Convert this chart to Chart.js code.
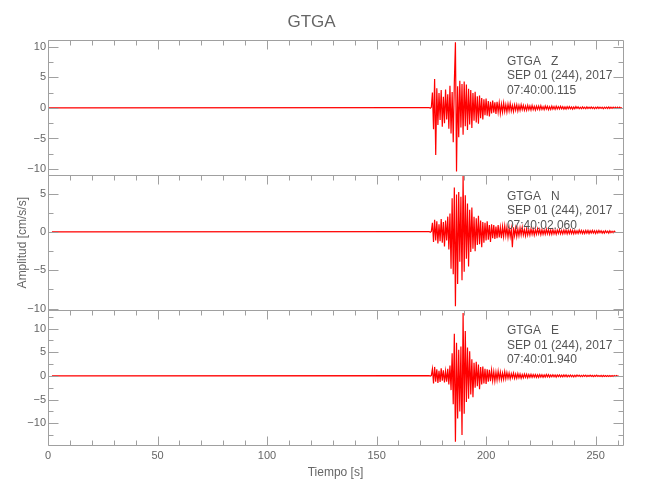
<!DOCTYPE html>
<html>
<head>
<meta charset="utf-8">
<script src="https://cdn.jsdelivr.net/npm/chart.js@4/dist/chart.umd.min.js"></script>
<style>
body { margin: 0; background: #fff; }
</style>
</head>
<body>
<canvas id="seis" width="650" height="500"></canvas>
<script>
// event window samples: first sample time and sample step [s]
var startTime = 174;
var sampleStep = 0.5;
// time where each trace starts (quiet part before the event is flat)
var quietStart = [0, 1.8, 1.8];

var channelNames = ['Z', 'N', 'E'];
var channelTimes = ['07:40:00.115', '07:40:02.060', '07:40:01.940'];
var dateLine = 'SEP 01 (244), 2017';
var station = 'GTGA';

var xTicks = [0, 50, 100, 150, 200, 250];
var zTicks = [-10, -5, 0, 5, 10];
var nTicks = [-10, -5, 0, 5];
var eTicks = [-10, -5, 0, 5, 10];

// amplitudes [cm/s/s]
var zValues = [0.05,-0.06,0.1,
	2.5,-3.5,4.7,-7.7,3.2,-2.8,2.4,-2.0,2.9,-3.1,
	1.8,-2.5,3.0,-1.9,2.2,-3.4,3.6,-4.2,2.6,-5.6,
	4.1,10.7,-10.4,3.5,-4.8,4.4,-3.2,3.9,-4.4,4.3,
	-3.0,3.8,-3.6,3.1,-2.7,2.9,-3.3,2.4,-2.1,2.6,
	-2.4,1.9,-2.6,2.0,-1.7,1.6,-1.9,1.4,-1.2,1.5,
	-1.3,1.1,-1.4,1.0,-0.9,1.2,-0.8,0.9,-1.0,1.0,
	-0.7,0.8,-0.9,0.6,-0.7,0.8,-0.6,0.5,-0.7,0.6,
	-0.5,0.7,-0.5,0.4,-0.6,0.5,-0.4,0.5,-0.5,0.4,
	-0.4,0.5,-0.3,0.4,-0.4,0.3,-0.4,0.4,-0.3,0.3,
	-0.35,0.4,-0.3,0.25,-0.35,0.3,-0.25,0.3,-0.3,0.35,
	-0.25,0.2,-0.3,0.3,-0.2,0.25,-0.3,0.2,-0.25,0.3,
	-0.2,0.2,-0.25,0.25,-0.2,0.2,-0.2,0.25,-0.15,0.2,
	-0.2,0.15,-0.2,0.2,-0.15,0.2,-0.15,0.15,-0.2,0.15,
	-0.15,0.2,-0.1,0.15,-0.15,0.1,-0.15,0.15,-0.1,0.1,
	-0.15,0.15,-0.1,0.1,-0.1,0.15,-0.1,0.1,-0.15,0.1,
	-0.1,0.15,-0.1,0.1,-0.1,0.1,-0.15,0.1,-0.1,0.1,
	-0.1,0.15,-0.1,0.1,-0.1,0.1,-0.1,0.1,-0.1,0.1,
	-0.1,0.1,-0.1,0.05];

var nValues = [0.05,-0.05,0.08,
	1.2,-1.3,1.6,-1.1,1.4,-1.5,1.0,-1.2,1.7,-1.4,
	1.3,-1.9,1.5,-1.1,2.0,-2.3,2.4,-4.8,4.4,-5.5,
	5.8,-9.7,4.9,-6.8,5.2,-3.9,4.6,-6.3,7.3,-5.2,
	4.8,-3.5,3.7,-4.5,2.9,-2.6,3.2,-2.2,2.0,-2.5,
	1.8,-1.7,2.1,-1.6,1.5,-2.0,1.3,-1.4,1.2,-1.1,
	1.4,-1.0,0.9,-1.3,1.0,-0.8,0.9,-0.9,0.7,-0.8,
	0.9,-0.7,0.6,-0.8,0.7,-0.6,0.8,-0.5,0.6,-0.7,
	0.5,-0.6,0.4,-2.0,0.6,-0.5,0.5,-0.6,0.4,-0.5,
	0.5,-0.4,0.6,-0.4,0.3,-0.5,0.4,-0.4,0.3,-0.4,
	0.4,-0.3,0.35,-0.4,0.3,-0.3,0.4,-0.25,0.3,-0.35,
	0.3,-0.3,0.25,-0.3,0.35,-0.25,0.3,-0.3,0.25,-0.3,
	0.3,-0.25,0.2,-0.3,0.25,-0.2,0.3,-0.25,0.2,-0.25,
	0.25,-0.2,0.25,-0.25,0.2,-0.2,0.25,-0.2,0.2,-0.25,
	0.2,-0.2,0.15,-0.2,0.25,-0.15,0.2,-0.2,0.15,-0.2,
	0.2,-0.15,0.2,-0.2,0.15,-0.15,0.2,-0.15,0.15,-0.2,
	0.15,-0.15,0.2,-0.1,0.15,-0.15,0.1,-0.15,0.15,-0.1,
	0.1,-0.15,0.15,-0.1,0.1,-0.1,0.1,0.0];

var eValues = [0.05,-0.05,0.08,
	1.5,-1.6,1.9,-1.2,1.4,-1.5,1.1,-1.3,1.6,-1.0,
	1.2,-1.4,1.0,-1.2,1.5,-1.8,2.2,-3.0,4.8,-6.0,
	8.9,-13.9,7.0,-9.0,5.5,-7.5,6.2,-12.5,13.3,-8.0,
	9.5,-5.5,6.0,-4.8,5.2,-3.9,3.5,-4.5,2.8,-2.5,
	3.0,-2.2,2.4,-2.8,1.9,-1.8,2.0,-1.6,1.5,-1.7,
	1.4,-1.2,1.3,-1.1,1.2,-1.0,0.9,-1.1,0.8,-0.9,
	1.0,-0.7,0.8,-0.8,0.6,-0.7,0.9,-0.6,0.7,-0.5,
	0.6,-0.6,0.5,-0.4,0.6,-0.5,0.4,-0.5,0.5,-0.4,
	0.4,-0.5,0.3,-0.4,0.4,-0.3,0.35,-0.4,0.3,-0.3,
	0.35,-0.3,0.3,-0.25,0.3,-0.3,0.25,-0.3,0.3,-0.25,
	0.25,-0.3,0.2,-0.25,0.3,-0.2,0.25,-0.25,0.2,-0.2,
	0.25,-0.2,0.2,-0.25,0.2,-0.15,0.2,-0.2,0.15,-0.2,
	0.2,-0.15,0.2,-0.2,0.15,-0.15,0.2,-0.15,0.15,-0.2,
	0.15,-0.15,0.2,-0.1,0.15,-0.15,0.1,-0.15,0.15,-0.1,
	0.15,-0.15,0.1,-0.1,0.15,-0.1,0.1,-0.15,0.1,-0.1,
	0.15,-0.1,0.1,-0.1,0.1,-0.15,0.1,-0.1,0.1,-0.1,
	0.1,-0.1,0.1,-0.1,0.1,-0.1,0.1,-0.1,0.1,-0.05,0.0];

var fontFamily = "'Liberation Sans', Arial, sans-serif";
var textGrey = '#666666';
var frameGrey = '#a0a0a0';
var panelIds = ['yZ', 'yN', 'yE'];

function traceData(values, q) {
	var pts = [{x: q, y: 0}];
	for (var i = 0; i < values.length; i++) {
		pts.push({x: startTime + i * sampleStep, y: values[i]});
	}
	return pts;
}

function minusLabel(v) {
	return v < 0 ? '\u2212' + Math.abs(v) : '' + v;
}

function yScale(min, max, ticks, title) {
	return {
		type: 'linear',
		position: 'left',
		stack: 'seis',
		stackWeight: 1,
		min: min,
		max: max,
		grid: {display: false, drawTicks: false},
		border: {display: false},
		afterBuildTicks: function(s) {
			s.ticks = ticks.map(function(v) { return {value: v}; });
		},
		afterFit: function(s) { s.width = 48; },
		ticks: {
			color: textGrey,
			padding: 2,
			font: {family: fontFamily, size: 11},
			callback: minusLabel
		},
		title: {
			display: !!title,
			text: title || '',
			color: textGrey,
			font: {family: fontFamily, size: 12},
			padding: {top: 15, bottom: 0}
		}
	};
}

// frames, inward ticks (IDL style) and the channel headers
var panelFrame = {
	id: 'panelFrame',
	afterDraw: function(chart) {
		var ctx = chart.ctx;
		var xs = chart.scales.x;
		var area = chart.chartArea;
		var l = Math.round(area.left) + 0.5;
		var r = Math.round(area.right) + 0.5;
		ctx.save();
		ctx.strokeStyle = frameGrey;
		ctx.lineWidth = 1;
		panelIds.forEach(function(id, p) {
			var s = chart.scales[id];
			var top = Math.round(s.top) + 0.5;
			var bot = Math.round(s.bottom) + 0.5;
			ctx.beginPath();
			ctx.rect(l, top, r - l, bot - top);
			for (var v = Math.ceil(s.min / 2.5) * 2.5; v <= s.max; v += 2.5) {
				var yy = Math.round(s.getPixelForValue(v)) + 0.5;
				var len = (v % 5 === 0) ? 10 : 5;
				ctx.moveTo(l, yy); ctx.lineTo(l + len, yy);
				ctx.moveTo(r, yy); ctx.lineTo(r - len, yy);
			}
			for (var t = 0; t <= xs.max; t += 10) {
				var xx = Math.round(xs.getPixelForValue(t)) + 0.5;
				var len2 = (t % 50 === 0) ? 9 : 5;
				ctx.moveTo(xx, top); ctx.lineTo(xx, top + len2);
				if (Math.abs(s.bottom - area.bottom) < 1) {
					ctx.moveTo(xx, bot); ctx.lineTo(xx, bot - len2);
				}
			}
			ctx.stroke();

			ctx.fillStyle = '#555555';
			ctx.font = '12px ' + fontFamily;
			ctx.textBaseline = 'middle';
			ctx.textAlign = 'left';
			var tx = xs.getPixelForValue(209.5);
			var lines = [station + '   ' + channelNames[p], dateLine, channelTimes[p]];
			lines.forEach(function(txt, k) {
				ctx.fillText(txt, tx, s.top + 21 + k * 14.5);
			});
		});
		ctx.restore();
	}
};

var traces = [zValues, nValues, eValues];
var datasets = traces.map(function(vals, p) {
	return {
		label: channelNames[p],
		data: traceData(vals, quietStart[p]),
		yAxisID: panelIds[p],
		borderColor: '#ff0000',
		borderWidth: 1.2,
		pointRadius: 0,
		tension: 0,
		fill: false
	};
});

var ctx = document.getElementById('seis');
var seisChart = new Chart(ctx, {
	type: 'line',
	data: {datasets: datasets},
	options: {
		responsive: false,
		animation: false,
		layout: {padding: {left: 0, right: 27, top: 0, bottom: 0}},
		plugins: {
			legend: {display: false},
			tooltip: {enabled: false},
			title: {
				display: true,
				text: station,
				color: textGrey,
				font: {family: fontFamily, size: 17, weight: 'normal'},
				padding: {top: 12, bottom: 8}
			}
		},
		scales: {
			x: {
				type: 'linear',
				position: 'bottom',
				min: 0,
				max: 262.5,
				grid: {display: false, drawTicks: false},
				border: {display: false},
				afterBuildTicks: function(s) {
					s.ticks = xTicks.map(function(v) { return {value: v}; });
				},
				afterFit: function(s) { s.height = 55; },
				ticks: {color: textGrey, padding: 4, maxRotation: 0, font: {family: fontFamily, size: 11}},
				title: {
					display: true,
					text: 'Tiempo [s]',
					color: textGrey,
					font: {family: fontFamily, size: 12},
					padding: {top: 0, bottom: 20}
				}
			},
			// stacked panels are laid out bottom-up, so the lowest panel comes first
			yE: yScale(-14.6, 13.9, eTicks),
			yN: yScale(-10.2, 7.4, nTicks, 'Amplitud [cm/s/s]'),
			yZ: yScale(-11, 11, zTicks)
		}
	},
	plugins: [panelFrame]
});
</script>
</body>
</html>
